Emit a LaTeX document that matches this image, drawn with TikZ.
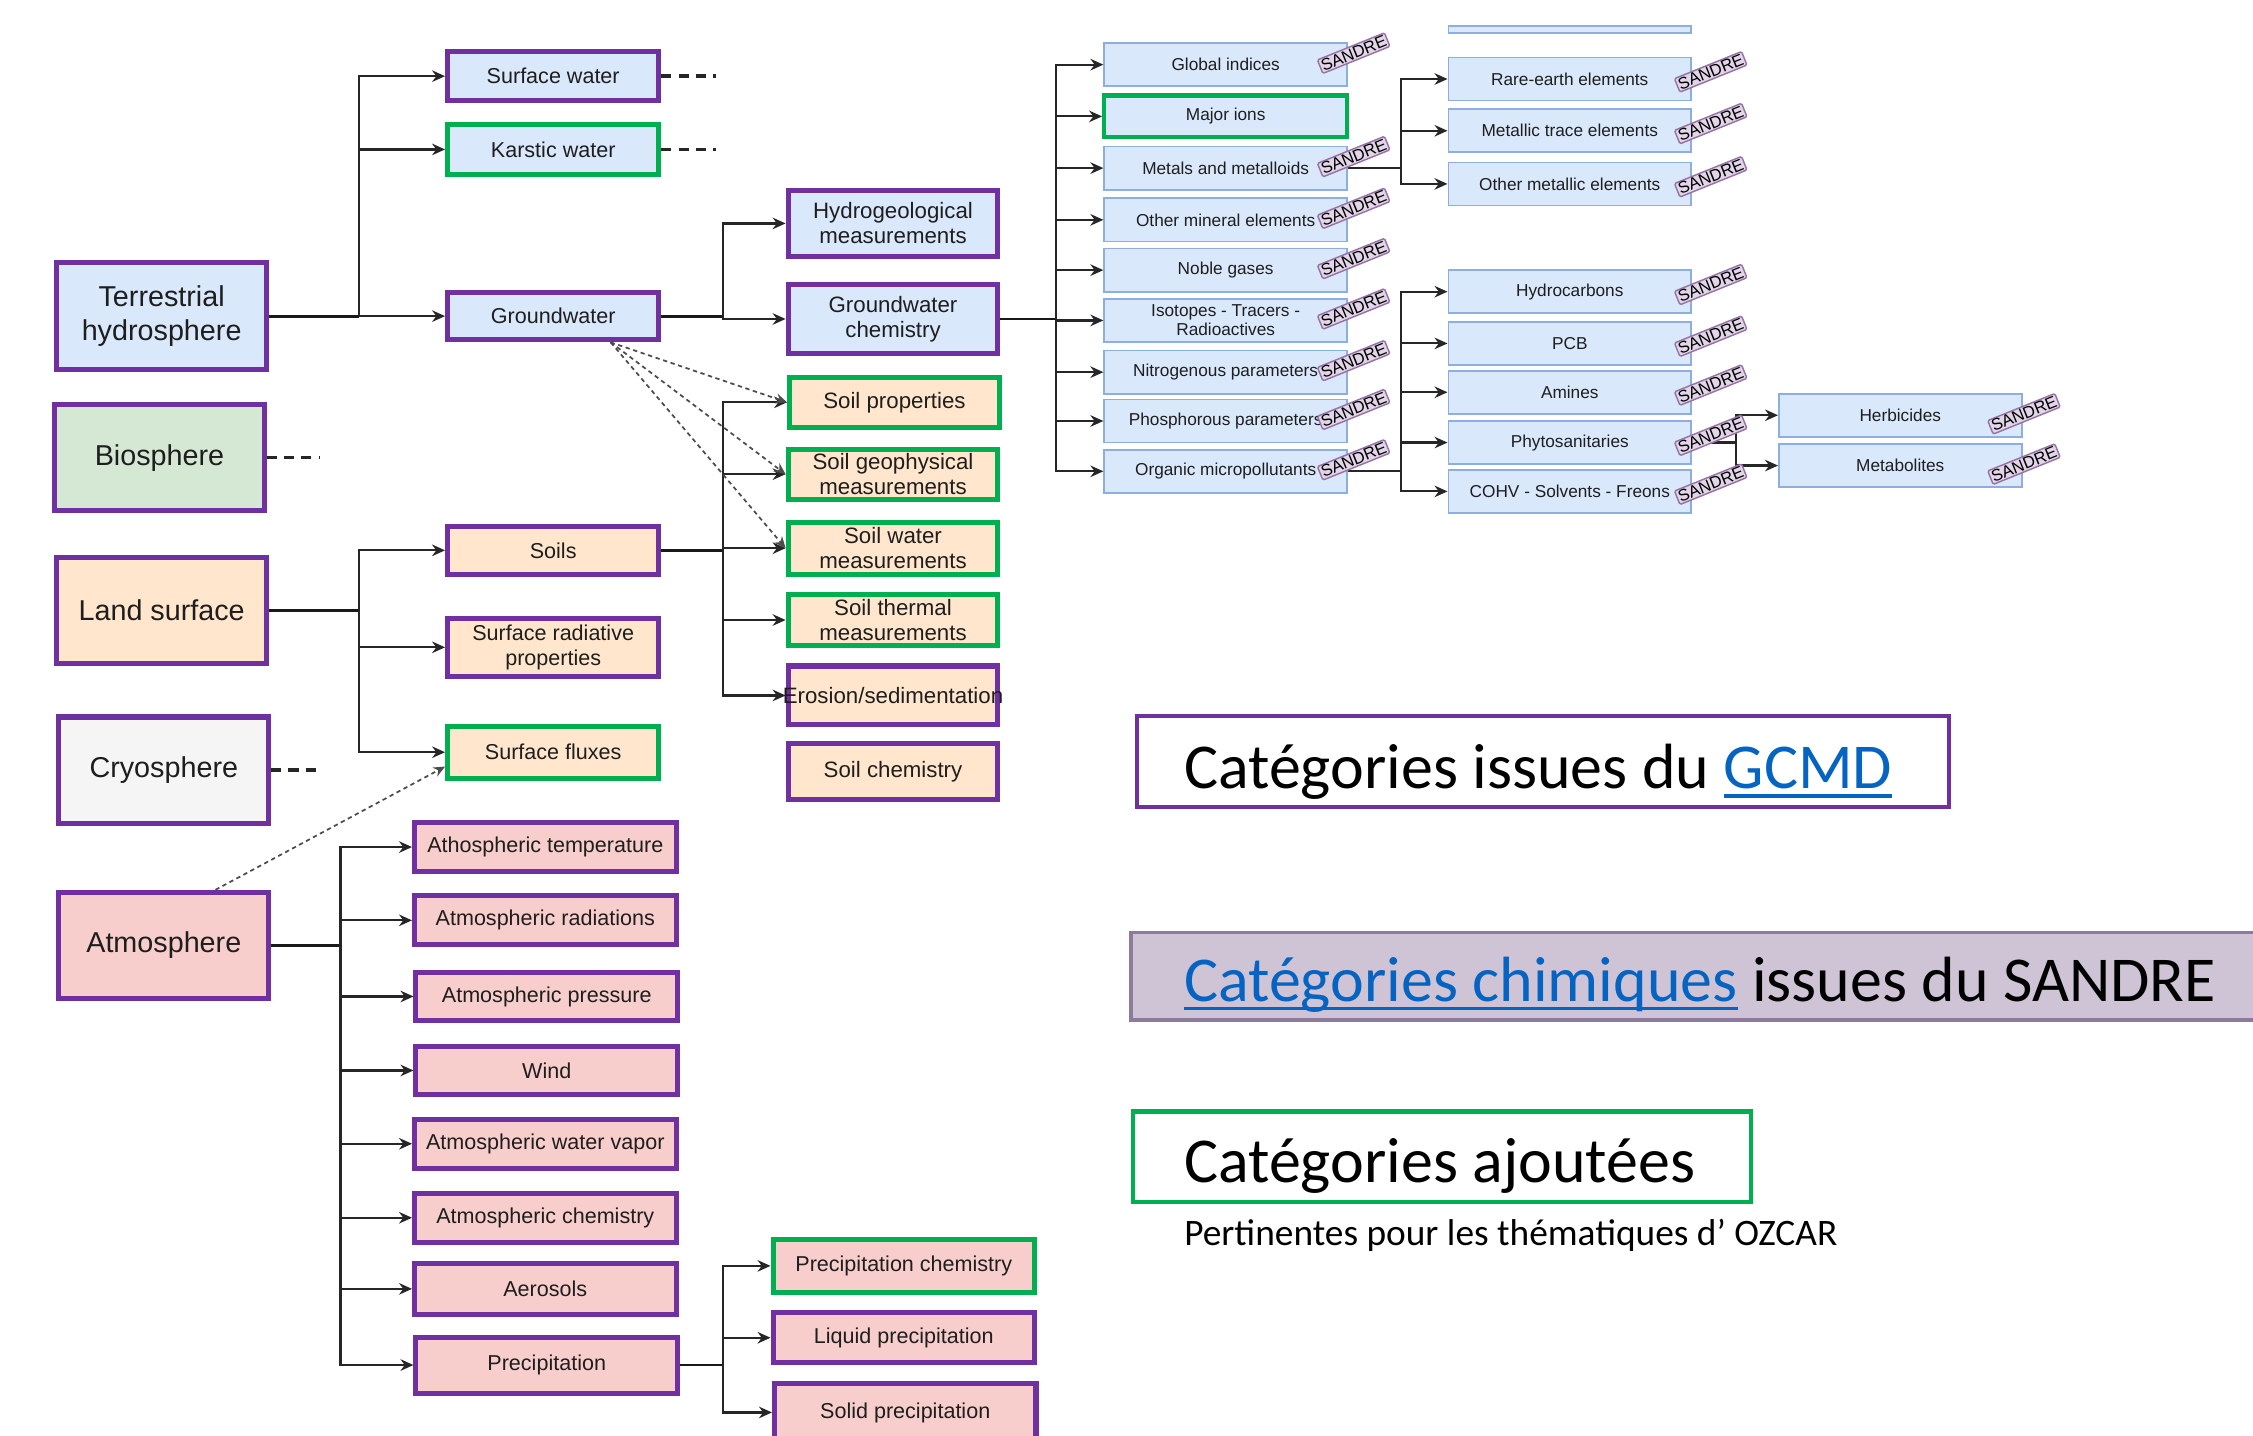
\documentclass[tikz,border=0pt]{standalone}
\usepackage{fontspec}
\setmainfont{Liberation Sans}
\newfontfamily\calfont{Carlito}
\usetikzlibrary{arrows.meta,calc}
\definecolor{purp}{HTML}{7030A0}
\definecolor{grn}{HTML}{00B050}
\definecolor{cblue}{HTML}{DAE8FC}
\definecolor{cgreen}{HTML}{D5E8D4}
\definecolor{cpeach}{HTML}{FFE6CC}
\definecolor{cgray}{HTML}{F5F5F5}
\definecolor{cpink}{HTML}{F8CECC}
\definecolor{sbord}{HTML}{8EAEDF}
\definecolor{tagf}{HTML}{E1D5E7}
\definecolor{tagb}{HTML}{9673A6}
\definecolor{sandf}{HTML}{CFC4D5}
\definecolor{sandb}{HTML}{8E7B9B}
\definecolor{lnk}{HTML}{0563C1}
\definecolor{txt}{HTML}{1E1E1E}
\newcommand\lk[1]{{\color{lnk}\setbox0\hbox{#1}\rlap{\rule[-0.14em]{\wd0}{0.055em}}\box0}}
\tikzset{
 lbl/.style={rectangle, inner sep=1pt, align=center, text=txt},
 purb/.style={draw=purp},
 grnb/.style={draw=grn},
 bigbox/.style={lbl, line width=3.5pt, draw=purp, minimum width=146pt, minimum height=74pt, font=\fontsize{20}{24}\selectfont},
 c2box/.style={lbl, line width=3.5pt, minimum width=147pt, font=\fontsize{15}{17}\selectfont},
 c3box/.style={lbl, line width=3.5pt, minimum width=146pt, font=\fontsize{15.5}{17.5}\selectfont},
 atbox/.style={lbl, line width=3.5pt, minimum width=182pt, minimum height=34pt, font=\fontsize{15}{17}\selectfont},
 sbox/.style={lbl, line width=1.2pt, draw=sbord, fill=cblue, minimum width=169pt, minimum height=30pt, font=\fontsize{12}{13}\selectfont},
 sandretag/.style={rectangle, rounded corners=1pt, draw=tagb, fill=tagf, line width=1pt, inner xsep=1.2pt, inner ysep=1pt, rotate=22, font=\fontsize{11.5}{11.5}\selectfont, text=black},
 conn/.style={line width=1.5pt, draw=black!85},
 conn2/.style={line width=2pt, draw=black!90},
 arrw/.style={conn, -{Stealth[length=9pt,width=8pt]}},
 dots/.style={line width=1.2pt, draw=black!70, dash pattern=on 3pt off 2.5pt, -{Stealth[length=8pt,width=7pt]}},
 stub/.style={line width=2.5pt, draw=black!85, dash pattern=on 7pt off 5pt},
 legtxt/.style={anchor=base west, inner sep=0pt, text=black, font=\calfont\fontsize{44.5}{50}\selectfont}
}
\begin{document}
\begin{tikzpicture}[x=1pt,y=-1pt]
\useasboundingbox (0,0) rectangle (1568,999);
\fill[white] (0,0) rectangle (1568,999);
\clip (0,0) rectangle (1568,999);

% ---- left column
\node[bigbox, fill=cblue] (th) at (112.5,220) {Terrestrial\\hydrosphere};
\node[bigbox, fill=cgreen] (bio) at (111,318.5) {Biosphere};
\node[bigbox, fill=cpeach] (land) at (112.5,425) {Land surface};
\node[bigbox, fill=cgray] (cryo) at (114,536) {Cryosphere};
\node[bigbox, fill=cpink] (atm) at (114,658) {Atmosphere};

% ---- second column
\node[c2box, purb, fill=cblue, minimum height=34pt] (sw) at (385,53) {Surface water};
\node[c2box, grnb, fill=cblue, minimum height=35pt] (kw) at (385,104) {Karstic water};
\node[c2box, purb, fill=cblue, minimum height=33pt] (gw) at (385,220) {Groundwater};
\node[c2box, purb, fill=cpeach, minimum height=33pt] (soils) at (385,383) {Soils};
\node[c2box, purb, fill=cpeach, minimum height=40pt] (srp) at (385,450.5) {Surface radiative\\properties};
\node[c2box, grnb, fill=cpeach, minimum height=36pt] (sf) at (385,523.5) {Surface fluxes};

% ---- third column
\node[c3box, purb, fill=cblue, minimum height=46pt] (hm) at (621.5,155.5) {Hydrogeological\\measurements};
\node[c3box, purb, fill=cblue, minimum height=48pt] (gc) at (621.5,222) {Groundwater\\chemistry};
\node[c3box, grnb, fill=cpeach, minimum height=35pt] (sp) at (622.5,280) {Soil properties};
\node[c3box, grnb, fill=cpeach, minimum height=35pt] (sg) at (621.5,330) {Soil geophysical\\measurements};
\node[c3box, grnb, fill=cpeach, minimum height=36pt] (swm) at (621.5,381.5) {Soil water\\measurements};
\node[c3box, grnb, fill=cpeach, minimum height=36pt] (stm) at (621.5,431.5) {Soil thermal\\measurements};
\node[c3box, purb, fill=cpeach, minimum height=41pt] (er) at (621.5,484) {\makebox[0pt]{Erosion/sedimentation}};
\node[c3box, purb, fill=cpeach, minimum height=39pt] (sc) at (621.5,537) {Soil chemistry};

% ---- atmosphere column
\node[atbox, purb, fill=cpink] (a1) at (379.5,589.5) {Athospheric temperature};
\node[atbox, purb, fill=cpink] (a2) at (379.5,640.5) {Atmospheric radiations};
\node[atbox, purb, fill=cpink] (a3) at (380.5,693.5) {Atmospheric pressure};
\node[atbox, purb, fill=cpink] (a4) at (380.5,745) {Wind};
\node[atbox, purb, fill=cpink] (a5) at (379.5,796) {Atmospheric water vapor};
\node[atbox, purb, fill=cpink] (a6) at (379.5,847.5) {Atmospheric chemistry};
\node[atbox, purb, fill=cpink, minimum height=35pt] (a7) at (379.5,897) {Aerosols};
\node[atbox, purb, fill=cpink, minimum height=39pt] (a8) at (380.5,950) {Precipitation};

% ---- precipitation column
\node[atbox, grnb, fill=cpink, minimum height=37pt] (pc) at (629,881) {Precipitation chemistry};
\node[atbox, purb, fill=cpink, minimum height=35pt] (lp) at (629,931) {Liquid precipitation};
\node[atbox, purb, fill=cpink, minimum height=40pt] (spr) at (630,983) {Solid precipitation};

% ---- SANDRE column 1
\node[sbox] (s1) at (853,45) {Global indices};
\node[sbox, draw=grn, line width=3pt, minimum height=29pt] (s2) at (853,81) {Major ions};
\node[sbox] (s3) at (853,117) {Metals and metalloids};
\node[sbox] (s4) at (853,153) {Other mineral elements};
\node[sbox] (s5) at (853,188) {Noble gases};
\node[sbox] (s6) at (853,223) {Isotopes - Tracers -\\Radioactives};
\node[sbox] (s7) at (853,259) {Nitrogenous parameters};
\node[sbox] (s8) at (853,293) {Phosphorous parameters};
\node[sbox] (s9) at (853,328) {Organic micropollutants};

% ---- SANDRE column 2
\node[sbox, minimum height=5pt] (tb) at (1092.5,20.5) {};
\node[sbox] (r1) at (1092.5,55) {Rare-earth elements};
\node[sbox] (r2) at (1092.5,91) {Metallic trace elements};
\node[sbox] (r3) at (1092.5,128) {Other metallic elements};
\node[sbox] (r4) at (1092.5,203) {Hydrocarbons};
\node[sbox] (r5) at (1092.5,239) {PCB};
\node[sbox] (r6) at (1092.5,273) {Amines};
\node[sbox] (r7) at (1092.5,308) {Phytosanitaries};
\node[sbox] (r8) at (1092.5,342) {COHV - Solvents - Freons};

% ---- SANDRE column 3
\node[sbox] (h1) at (1322.5,289) {Herbicides};
\node[sbox] (h2) at (1322.5,324) {Metabolites};

% ---- connectors: terrestrial hydrosphere
\coordinate (j1) at (250,220);
\draw[conn2] (th.east) -- (j1);
\draw[arrw] (j1) |- (sw.west);
\draw[arrw] (j1) |- (kw.west);
\draw[arrw] (j1) -- (gw.west);
\draw[stub] (sw.east) -- ++(38,0);
\draw[stub] (kw.east) -- ++(38,0);
\draw[stub] (bio.east) -- ++(37,0);
\draw[stub] (cryo.east) -- ++(35,0);

% groundwater
\coordinate (j2) at (503,220);
\draw[conn2] (gw.east) -- (j2);
\draw[arrw] (j2) |- (hm.west);
\draw[arrw] (j2) |- (gc.west);

% groundwater chemistry
\coordinate (j3) at (735,222);
\draw[conn2] (gc.east) -- (j3);
\foreach \n in {s1,s2,s3,s4,s5,s6,s7,s8,s9}{\draw[arrw] (j3) |- (\n.west);}

% metals
\coordinate (j4) at (975,117);
\draw[conn] (s3.east) -- (j4);
\foreach \n in {r1,r2,r3}{\draw[arrw] (j4) |- (\n.west);}
% organic micropollutants
\coordinate (j5) at (975,328);
\draw[conn] (s9.east) -- (j5);
\foreach \n in {r4,r5,r6,r7,r8}{\draw[arrw] (j5) |- (\n.west);}
% phytosanitaries
\coordinate (j6) at (1208,308);
\draw[conn] (r7.east) -- (j6);
\foreach \n in {h1,h2}{\draw[arrw] (j6) |- (\n.west);}

% land surface
\coordinate (j7) at (250,425);
\draw[conn2] (land.east) -- (j7);
\draw[arrw] (j7) |- (soils.west);
\draw[arrw] (j7) |- (srp.west);
\draw[arrw] (j7) |- (sf.west);

% soils
\coordinate (j8) at (503,383);
\draw[conn2] (soils.east) -- (j8);
\foreach \n in {sp,sg,swm,stm,er}{\draw[arrw] (j8) |- (\n.west);}

% atmosphere
\coordinate (j9) at (237,658);
\draw[conn2] (atm.east) -- (j9);
\foreach \n in {a1,a2,a3,a4,a5,a6,a7,a8}{\draw[arrw] (j9) |- (\n.west);}

% precipitation
\coordinate (j10) at (503,950);
\draw[conn2] (a8.east) -- (j10);
\foreach \n in {pc,lp,spr}{\draw[arrw] (j10) |- (\n.west);}

% dotted links
\draw[dots] ([xshift=40pt]gw.south) -- (sp.west);
\draw[dots] ([xshift=40pt]gw.south) -- (sg.west);
\draw[dots] ([xshift=40pt]gw.south) -- (swm.west);
\draw[dots] ([xshift=36pt]atm.north) -- ([yshift=-10pt]sf.west);

% ---- SANDRE tags
\foreach \n/\k in {s1/ta,s3/tb3,s4/tc,s5/td,s6/te,s7/tf,s8/tg,s9/th9}{
  \node[sandretag] (\k) at ($(\n.east)+(4,-8)$) {SANDRE};}
\foreach \n/\k in {r1/ua,r2/ub,r3/uc,r4/ud,r5/ue,r6/uf,r7/ug,r8/uh}{
  \node[sandretag] (\k) at ($(\n.east)+(13,-5)$) {SANDRE};}
\foreach \n/\k in {h1/va,h2/vb}{
  \node[sandretag] (\k) at ($(\n.east)+(1,-1)$) {SANDRE};}

% ---- legend
\node[draw=purp, line width=3pt, minimum width=565pt, minimum height=63pt, inner sep=0pt] (lg1) at (1074,530) {};
\node[legtxt] (lg1t) at (824,549) {Catégories issues du \lk{GCMD}};
\node[draw=sandb, fill=sandf, line width=2.5pt, minimum width=800pt, minimum height=61pt, inner sep=0pt] (lg2) at (1187,679.5) {};
\node[legtxt] (lg2t) at (824,697) {\lk{Catégories chimiques} issues du SANDRE};
\node[draw=grn, line width=3pt, minimum width=430pt, minimum height=63pt, inner sep=0pt] (lg3) at (1003.5,805) {};
\node[legtxt] (lg3t) at (824,823) {Catégories ajoutées};
\node[legtxt, font=\calfont\fontsize{26}{30}\selectfont] (lg4) at (824,867) {Pertinentes pour les thématiques d’ OZCAR};
\end{tikzpicture}
\end{document}
